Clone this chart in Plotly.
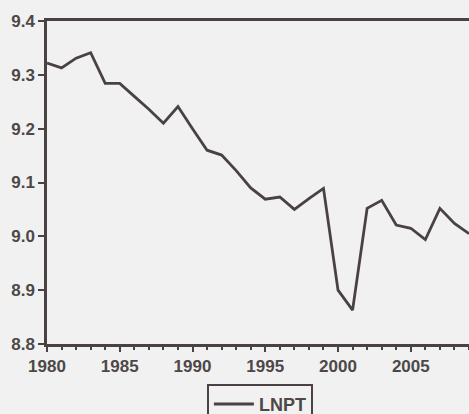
import plotly.graph_objects as go

years = list(range(1980, 2010))
lnpt = [9.322, 9.313, 9.331, 9.341, 9.284, 9.284, 9.260, 9.236, 9.210, 9.241,
        9.200, 9.160, 9.151, 9.122, 9.090, 9.069, 9.073, 9.050, 9.070, 9.089,
        8.900, 8.863, 9.052, 9.067, 9.021, 9.015, 8.994, 9.052, 9.024, 9.005]
y_ticks = [8.8, 8.9, 9.0, 9.1, 9.2, 9.3, 9.4]
y_tick_text = ["8.8", "8.9", "9.0", "9.1", "9.2", "9.3", "9.4"]
x_ticks = [1980, 1985, 1990, 1995, 2000, 2005]

ink = "#4a4242"
font = dict(family="Liberation Sans, Arial, sans-serif", size=17, color="#4d4848")

fig = go.Figure()
fig.add_trace(go.Scatter(x=years, y=lnpt, mode="lines", name="LNPT",
                         line=dict(color=ink, width=2.8)))

fig.update_layout(
    width=469, height=414,
    margin=dict(l=47, r=0, t=21, b=70, autoexpand=False),
    paper_bgcolor="#f1f1f1", plot_bgcolor="#f1f1f1",
    font=font,
    showlegend=True,
    legend=dict(x=0.505, y=(414 - 384) / 414, xanchor="center", yanchor="top",
                yref="container",
                orientation="h", bordercolor=ink, borderwidth=1.8,
                bgcolor="rgba(0,0,0,0)", itemwidth=40,
                font=dict(family="Liberation Sans, Arial, sans-serif", size=18,
                          color="#4d4848", weight="bold")),
    xaxis=dict(range=[1980, 2009], tickvals=x_ticks, ticks="outside", ticklen=5,
               tickwidth=1.5, tickcolor=ink, showline=True, linecolor=ink,
               linewidth=2.5, mirror=True, showgrid=False, zeroline=False,
               automargin=False, tickfont=dict(weight="bold"),
               minor=dict(dtick=1, ticks="outside", ticklen=3, tickcolor=ink, showgrid=False)),
    yaxis=dict(range=[8.8, 9.4], tickvals=y_ticks, ticktext=y_tick_text,
               ticks="outside", ticklen=6, tickwidth=1.5, tickcolor=ink,
               showline=True, linecolor=ink, linewidth=2.5, showgrid=False,
               zeroline=False, automargin=False, tickfont=dict(weight="bold")),
)

fig.write_html("out.html", config={"displayModeBar": False},
               post_script="document.body.style.margin='0';")
